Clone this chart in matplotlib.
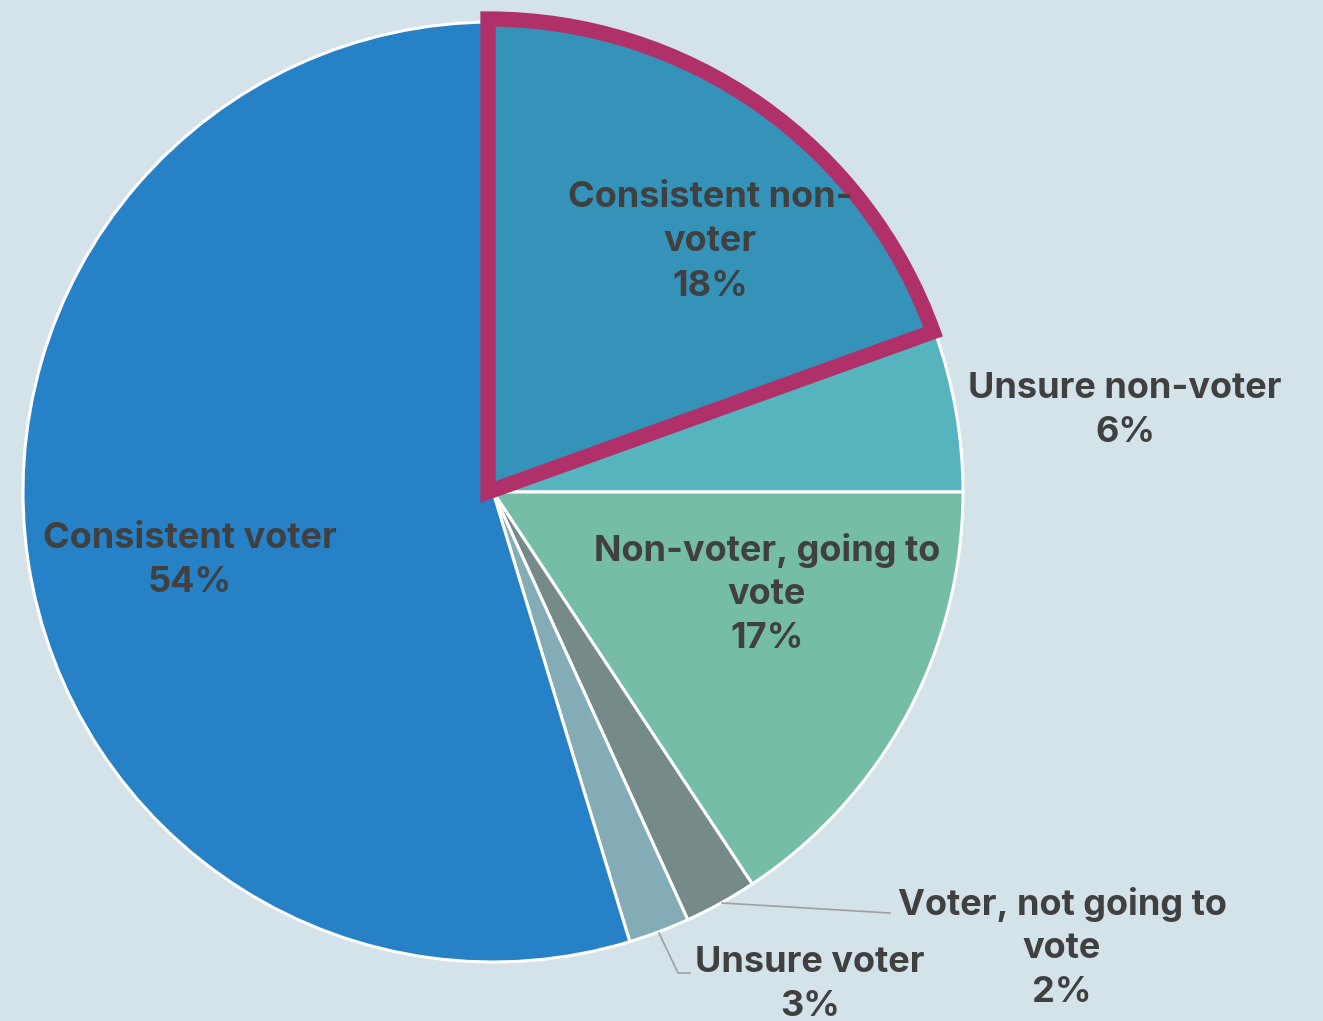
import matplotlib
matplotlib.use("Agg")
import matplotlib.pyplot as plt
from matplotlib.patches import Wedge

# slice shares (clockwise from 12 o'clock)
categories = [
    "Consistent non-\nvoter",
    "Unsure non-voter",
    "Non-voter, going to\nvote",
    "Voter, not going to\nvote",
    "Unsure voter",
    "Consistent voter",
]
shares = [19.5, 5.5, 15.7, 2.5, 2.1, 54.7]
pct_labels = ["18%", "6%", "17%", "2%", "3%", "54%"]
colors = ["#3593BA", "#56B4BF", "#76BDA7", "#768A8A", "#84ACB6", "#2681C6"]

W, H = 1323, 1021
BG = "#D4E2EA"
TXT = "#404040"

fig = plt.figure(figsize=(W / 100, H / 100), dpi=100, facecolor=BG)
ax = fig.add_axes([0, 0, 1, 1])
ax.set_facecolor(BG)

cx, cy, r = 493, H - 492, 470
wedges, _ = ax.pie(
    shares, colors=colors, startangle=90, counterclock=False,
    center=(cx, cy), radius=r, frame=True,
    wedgeprops=dict(edgecolor="white", linewidth=2.2),
)

# highlighted slice outline
w0 = wedges[0]
hl = Wedge((cx - 5, cy), r + 3, w0.theta1, w0.theta2, fill=False,
           edgecolor="#B0306A", linewidth=11, joinstyle="miter", zorder=5)
ax.add_patch(hl)

ax.set_xlim(0, W)
ax.set_ylim(0, H)
ax.set_aspect("equal")
ax.axis("off")

# label positions in pixels (x, top line y)
label_pos = [(710, 198), (1125, 389), (767, 551), (1062, 905), (810, 963), (190, 538)]
fs = 26
lh = 44
for name, pct, (x, y) in zip(categories, pct_labels, label_pos):
    lines = name.split("\n") + [pct]
    for i, line in enumerate(lines):
        ax.text(x, H - (y + i * lh), line, ha="center", va="center",
                fontsize=fs, fontweight="bold", color=TXT, family="Inter", zorder=6)

# leader lines
ax.plot([722, 890], [H - 903, H - 913], color="#A0A0A0", lw=1.2, zorder=4)
ax.plot([659, 678, 690], [H - 933, H - 973, H - 973], color="#A0A0A0", lw=1.2, zorder=4)

fig.savefig("out.png", dpi=100, facecolor=BG)
